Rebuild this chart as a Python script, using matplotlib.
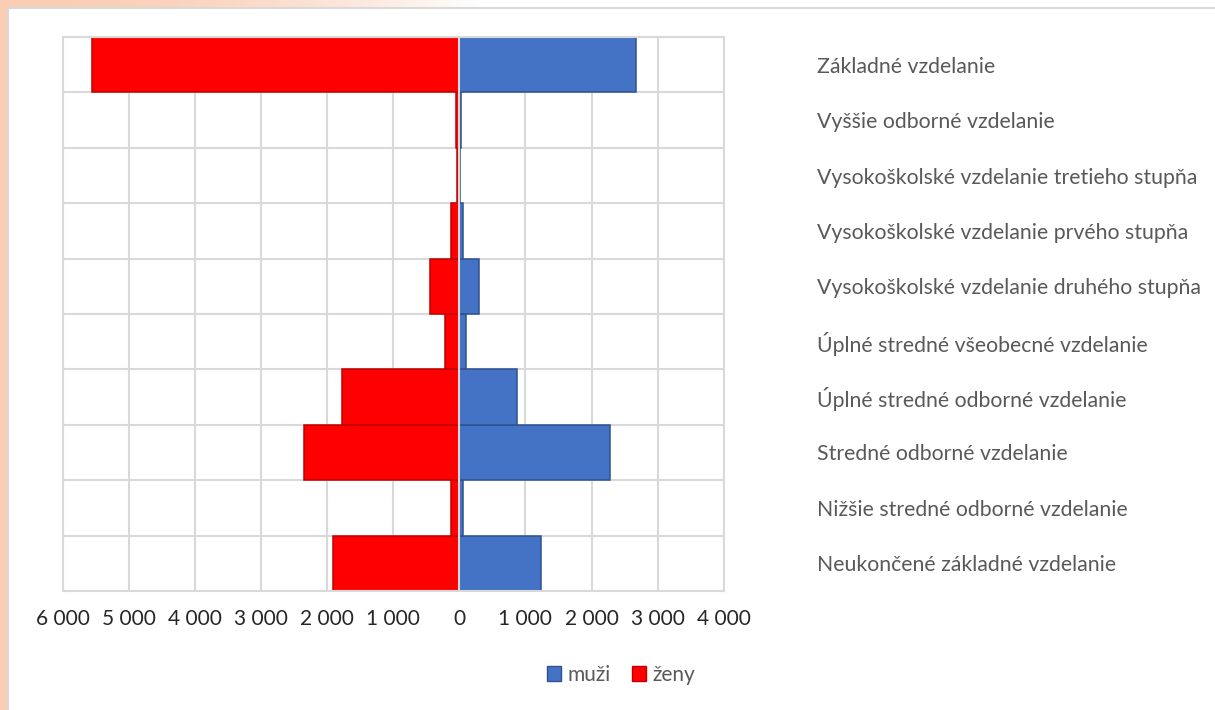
import numpy as np
import matplotlib
matplotlib.use("Agg")
from matplotlib import pyplot as plt
from matplotlib.patches import Patch, Rectangle

plt.rcParams['font.family'] = ['Lato', 'DejaVu Sans']

# categories from bottom to top
categories = [
    "Neukončené základné vzdelanie",
    "Nižšie stredné odborné vzdelanie",
    "Stredné odborné vzdelanie",
    "Úplné stredné odborné vzdelanie",
    "Úplné stredné všeobecné vzdelanie",
    "Vysokoškolské vzdelanie druhého stupňa",
    "Vysokoškolské vzdelanie prvého stupňa",
    "Vysokoškolské vzdelanie tretieho stupňa",
    "Vyššie odborné vzdelanie",
    "Základné vzdelanie",
]
muzi = [1240, 60, 2280, 880, 100, 300, 55, 15, 20, 2670]
zeny = [1915, 125, 2350, 1780, 210, 445, 120, 35, 55, 5560]
x_ticks = [-6000, -5000, -4000, -3000, -2000, -1000, 0, 1000, 2000, 3000, 4000]

W, H = 1215, 710
fig = plt.figure(figsize=(W / 100, H / 100), dpi=100)
fig.patch.set_facecolor('#FACDB4')

# top strip: peach fading to white
bg = fig.add_axes([0, 0, 1, 1], zorder=-10)
bg.set_xlim(0, W)
bg.set_ylim(H, 0)
bg.axis('off')
xs = np.linspace(0, W, 400)
peach = np.array([250, 205, 180]) / 255.0
row = np.array([peach + (1 - peach) * min(x / 480, 1) ** 2 for x in xs])
bg.imshow(row[np.newaxis, :, :], extent=[0, W, 8, 0], aspect='auto')
bg.add_patch(Rectangle((8, 8), W, H, facecolor='white', edgecolor='#D9D9D9', lw=1.5))

ax = fig.add_axes([62.7 / W, 1 - 591 / H, 661 / W, 554 / H])
y = np.arange(len(categories))
ax.barh(y, muzi, height=1.0, color='#4472C4', edgecolor='#2F528F', lw=1.1, zorder=2, label='muži')
ax.barh(y, [-v for v in zeny], height=1.0, color='#FF0000', edgecolor='#C00000', lw=1.1, zorder=2, label='ženy')
ax.axvline(0, color='#D9D9D9', lw=1.5, zorder=4)

ax.set_xlim(-6000, 4000)
ax.set_ylim(-0.5, len(categories) - 0.5)
ax.set_xticks(x_ticks)
ax.set_xticklabels([f"{abs(v):,}".replace(",", " ") for v in x_ticks], fontsize=15, color='#262626')
ax.set_yticks(y)
ax.set_yticklabels(categories, fontsize=15.3, color='#595959')
ax.yaxis.tick_right()
ax.tick_params(axis='y', length=0, pad=67)
ax.tick_params(axis='x', length=0, pad=13)
ax.set_yticks(np.arange(-0.5, len(categories), 1), minor=True)
ax.tick_params(which='minor', length=0)
ax.set_axisbelow(True)
ax.grid(axis='x', which='major', color='#D9D9D9', lw=1.5)
ax.grid(axis='y', which='minor', color='#D9D9D9', lw=1.5)
for s in ax.spines.values():
    s.set_color('#D9D9D9')
    s.set_linewidth(1.5)

handles = [Patch(facecolor='#4472C4', edgecolor='#2F528F', label='muži'),
           Patch(facecolor='#FF0000', edgecolor='#C00000', label='ženy')]
leg = fig.legend(handles=handles, loc='center', bbox_to_anchor=(621 / W, 1 - 675 / H), ncol=2,
                 frameon=False, fontsize=15, handlelength=0.7, handleheight=0.7,
                 handletextpad=0.3, columnspacing=1.0)
for t in leg.get_texts():
    t.set_color('#595959')

fig.savefig('out.png', dpi=100)
